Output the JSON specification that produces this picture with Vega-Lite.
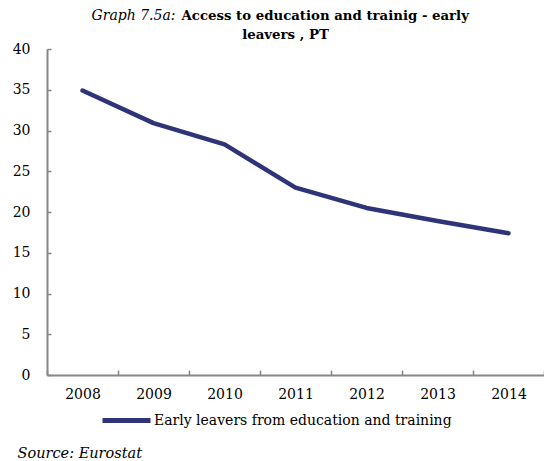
{
  "$schema": "https://vega.github.io/schema/vega-lite/v6.json",
  "autosize": "none",
  "width": 497,
  "height": 326,
  "padding": {"left": 47, "top": 49, "right": 0, "bottom": 86},
  "background": "white",
  "data": {
    "values": [
      {"year": "2008", "value": 34.9, "series": "Early leavers from education and training"},
      {"year": "2009", "value": 30.9, "series": "Early leavers from education and training"},
      {"year": "2010", "value": 28.3, "series": "Early leavers from education and training"},
      {"year": "2011", "value": 23.0, "series": "Early leavers from education and training"},
      {"year": "2012", "value": 20.5, "series": "Early leavers from education and training"},
      {"year": "2013", "value": 18.9, "series": "Early leavers from education and training"},
      {"year": "2014", "value": 17.4, "series": "Early leavers from education and training"}
    ]
  },
  "layer": [
    {
      "mark": {"type": "line", "strokeWidth": 4.5, "strokeCap": "round", "strokeJoin": "round"},
      "encoding": {
        "x": {
          "field": "year",
          "type": "ordinal",
          "scale": {"paddingInner": 0, "paddingOuter": 0},
          "axis": {
            "orient": "bottom",
            "title": "Source: Eurostat",
            "titleFont": "DejaVu Serif",
            "titleFontSize": 14.5,
            "titleFontStyle": "italic",
            "titleFontWeight": "normal",
            "titleColor": "black",
            "titleAnchor": null,
            "titleAlign": "left",
            "titleBaseline": "alphabetic",
            "titleX": -30,
            "titleY": 82,
            "labelAngle": 0,
            "labelFont": "DejaVu Serif",
            "labelFontSize": 14,
            "labelColor": "black",
            "labelPadding": 17,
            "tickBand": "extent",
            "tickSize": -5,
            "tickColor": "#868686",
            "tickWidth": 1.5,
            "domainColor": "#868686",
            "domainWidth": 2
          }
        },
        "y": {
          "field": "value",
          "type": "quantitative",
          "scale": {"domain": [0, 40]},
          "axis": {
            "orient": "left",
            "values": [0, 5, 10, 15, 20, 25, 30, 35, 40],
            "grid": false,
            "title": "Graph 7.5a:",
            "titleFont": "DejaVu Serif",
            "titleFontSize": 14,
            "titleFontStyle": "italic",
            "titleFontWeight": "normal",
            "titleColor": "black",
            "titleAngle": 0,
            "titleAnchor": null,
            "titleAlign": "left",
            "titleBaseline": "alphabetic",
            "titleX": 44,
            "titleY": -30,
            "labelFont": "DejaVu Serif",
            "labelFontSize": 14,
            "labelColor": "black",
            "labelPadding": 21,
            "tickSize": -4,
            "tickColor": "#868686",
            "tickWidth": 1.5,
            "domainColor": "#868686",
            "domainWidth": 2
          }
        },
        "color": {
          "field": "series",
          "type": "nominal",
          "scale": {"range": ["#2E3477"]},
          "legend": {
            "title": null,
            "orient": "none",
            "legendX": 53,
            "legendY": 345,
            "padding": 0,
            "symbolType": "stroke",
            "symbolSize": 2304,
            "symbolStrokeWidth": 5,
            "labelFont": "DejaVu Serif",
            "labelFontSize": 14,
            "labelColor": "black",
            "labelOffset": 1,
            "labelLimit": 0
          }
        }
      }
    },
    {
      "mark": {"type": "line", "opacity": 0},
      "encoding": {
        "x": {
          "field": "year",
          "type": "ordinal",
          "axis": {
            "orient": "top",
            "labels": false,
            "ticks": false,
            "domain": false,
            "title": "Access to education and trainig - early",
            "titleFont": "DejaVu Serif",
            "titleFontSize": 13.3,
            "titleFontWeight": "bold",
            "titleColor": "black",
            "titleAnchor": null,
            "titleAlign": "left",
            "titleBaseline": "alphabetic",
            "titleX": 134,
            "titleY": -30
          }
        },
        "y": {
          "field": "value",
          "type": "quantitative",
          "axis": {
            "orient": "right",
            "labels": false,
            "ticks": false,
            "domain": false,
            "grid": false,
            "title": "leavers , PT",
            "titleFont": "DejaVu Serif",
            "titleFontSize": 13.3,
            "titleFontWeight": "bold",
            "titleColor": "black",
            "titleAngle": 0,
            "titleAnchor": null,
            "titleAlign": "center",
            "titleBaseline": "alphabetic",
            "titleX": -259,
            "titleY": -11
          }
        }
      }
    }
  ],
  "resolve": {"axis": {"x": "independent", "y": "independent"}},
  "config": {"view": {"stroke": null}}
}
